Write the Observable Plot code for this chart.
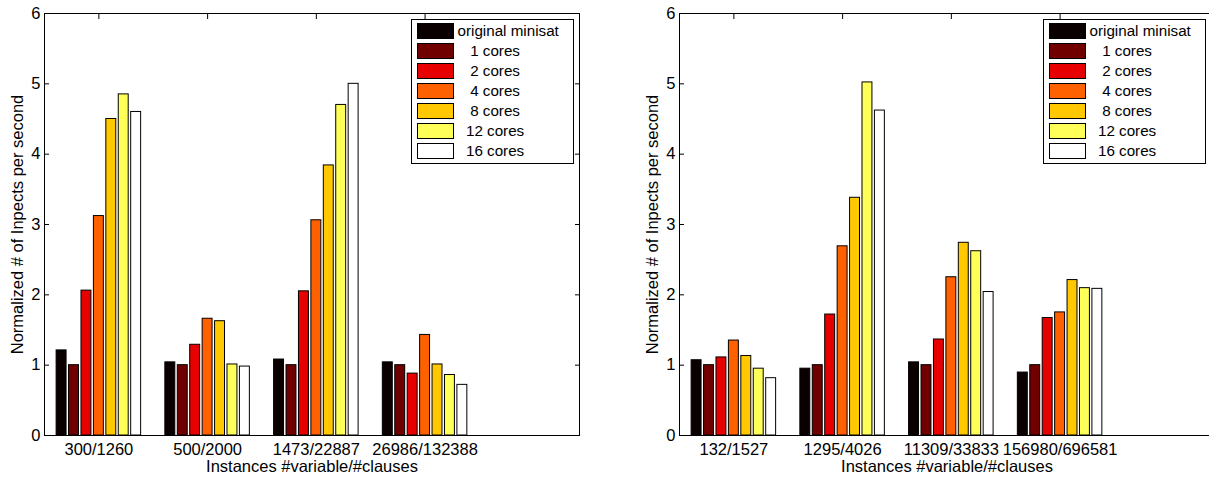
<!DOCTYPE html>
<html><head><meta charset="utf-8">
<script src="https://cdn.jsdelivr.net/npm/d3@7"></script>
<script src="https://cdn.jsdelivr.net/npm/@observablehq/plot@0.6"></script>
<style>
html,body{margin:0;padding:0;background:#fff}
body{width:1209px;height:479px;overflow:hidden;position:relative;font-family:"Liberation Sans",Arial,Helvetica,sans-serif}
.chart{position:absolute;top:0}
.legend{position:absolute;top:19px;width:163px;height:145px;border:1.5px solid #000;box-sizing:border-box;background:#fff}
.legend .row{position:absolute;left:4.5px;height:16px;display:flex;align-items:center}
.legend .sw{width:37px;height:16px;box-sizing:border-box;border:1px solid #000}
.legend .lb{margin-left:4px;font-size:15.2px;white-space:pre;color:#000;line-height:16px}
</style></head>
<body>
<script>
// ---- data ----
const seriesNames = ["original minisat","1 cores","2 cores","4 cores","8 cores","12 cores","16 cores"];
const legendLabels = ["original minisat","   1 cores","   2 cores","   4 cores","   8 cores","  12 cores","  16 cores"];
const seriesColors = ["#0a0000","#700000","#e60000","#ff6000","#ffc800","#ffff5a","#ffffff"];
const instancesLeft = ["300/1260","500/2000","1473/22887","26986/132388"];
const instancesRight = ["132/1527","1295/4026","11309/33833","156980/696581"];
// one row per instance, one value per series
const valuesLeft = [
  [1.21, 1.00, 2.06, 3.12, 4.50, 4.85, 4.60],
  [1.04, 1.00, 1.29, 1.66, 1.625, 1.01, 0.98],
  [1.08, 1.00, 2.05, 3.06, 3.84, 4.70, 5.00],
  [1.04, 1.00, 0.88, 1.43, 1.01, 0.86, 0.72]
];
const valuesRight = [
  [1.07, 1.00, 1.11, 1.35, 1.13, 0.95, 0.815],
  [0.95, 1.00, 1.72, 2.69, 3.38, 5.02, 4.62],
  [1.04, 1.00, 1.365, 2.25, 2.74, 2.62, 2.04],
  [0.895, 1.00, 1.67, 1.75, 2.21, 2.095, 2.085]
];
const yTicks = [0,1,2,3,4,5,6];
const xLabel = "Instances #variable/#clauses";
const yLabel = "Normalized # of Inpects per second";

function chart(instances, values) {
  const rows = [];
  values.forEach((vals, g) => vals.forEach((v, s) => rows.push({g, s, series: seriesNames[s], value: v})));
  const n = seriesNames.length;
  const pitch = 0.8 / n;
  const xTicks = instances.map((_, i) => i + 1);
  return Plot.plot({
    width: 620, height: 479,
    marginLeft: 44, marginRight: 41, marginTop: 13, marginBottom: 44,
    style: {fontFamily: '"Liberation Sans",Arial,Helvetica,sans-serif', fontSize: "16.5px", color: "#000", background: "transparent", overflow: "visible"},
    x: {type: "linear", domain: [0.5, 5.42]},
    y: {domain: [0, 6]},
    color: {domain: seriesNames, range: seriesColors},
    marks: [
      Plot.axisX({anchor: "bottom", ticks: xTicks, tickSize: -5, tickFormat: () => "", label: null}),
      Plot.rectY(rows, {
        x1: d => d.g + 1 - 0.4 + d.s * pitch + 0.1 * pitch,
        x2: d => d.g + 1 - 0.4 + (d.s + 1) * pitch - 0.1 * pitch,
        y1: 0, y2: "value", fill: "series", stroke: "#000", strokeWidth: 1
      }),
      Plot.axisX({anchor: "bottom", ticks: xTicks, tickSize: 0, tickPadding: 8, tickFormat: d => instances[d - 1], label: null, fontSize: 16.5}),
      Plot.axisX({anchor: "top", ticks: xTicks, tickSize: -5, tickFormat: () => "", label: null}),
      Plot.axisY({anchor: "left", ticks: yTicks, tickSize: 0, tickPadding: 4, tickFormat: d => String(d), label: null, fontSize: 16.5}),
      Plot.axisY({anchor: "left", ticks: yTicks, tickSize: -5, tickFormat: () => "", label: null}),
      Plot.axisY({anchor: "right", ticks: yTicks, tickSize: -5, tickFormat: () => "", label: null}),
      Plot.frame({stroke: "#000", strokeWidth: 1}),
      Plot.text([xLabel], {text: d => d, frameAnchor: "bottom", lineAnchor: "top", dy: 25, fontSize: 16.5}),
      Plot.text([yLabel], {text: d => d, frameAnchor: "left", textAnchor: "middle", rotate: -90, dx: -27, fontSize: 16.5})
    ]
  });
}

function legend(left) {
  const div = document.createElement("div");
  div.className = "legend";
  div.style.left = left + "px";
  seriesNames.forEach((s, i) => {
    const row = document.createElement("div");
    row.className = "row";
    row.style.top = (2.5 + i * 20) + "px";
    const sw = document.createElement("div");
    sw.className = "sw";
    sw.style.background = seriesColors[i];
    const lb = document.createElement("span");
    lb.className = "lb";
    lb.textContent = legendLabels[i];
    row.appendChild(sw); row.appendChild(lb);
    div.appendChild(row);
  });
  return div;
}

const c1 = chart(instancesLeft, valuesLeft);
c1.classList.add("chart"); c1.style.left = "0px";
const c2 = chart(instancesRight, valuesRight);
c2.classList.add("chart"); c2.style.left = "635px";
document.body.appendChild(c1);
document.body.appendChild(c2);
document.body.appendChild(legend(411));
document.body.appendChild(legend(1043));
</script>
</body></html>
